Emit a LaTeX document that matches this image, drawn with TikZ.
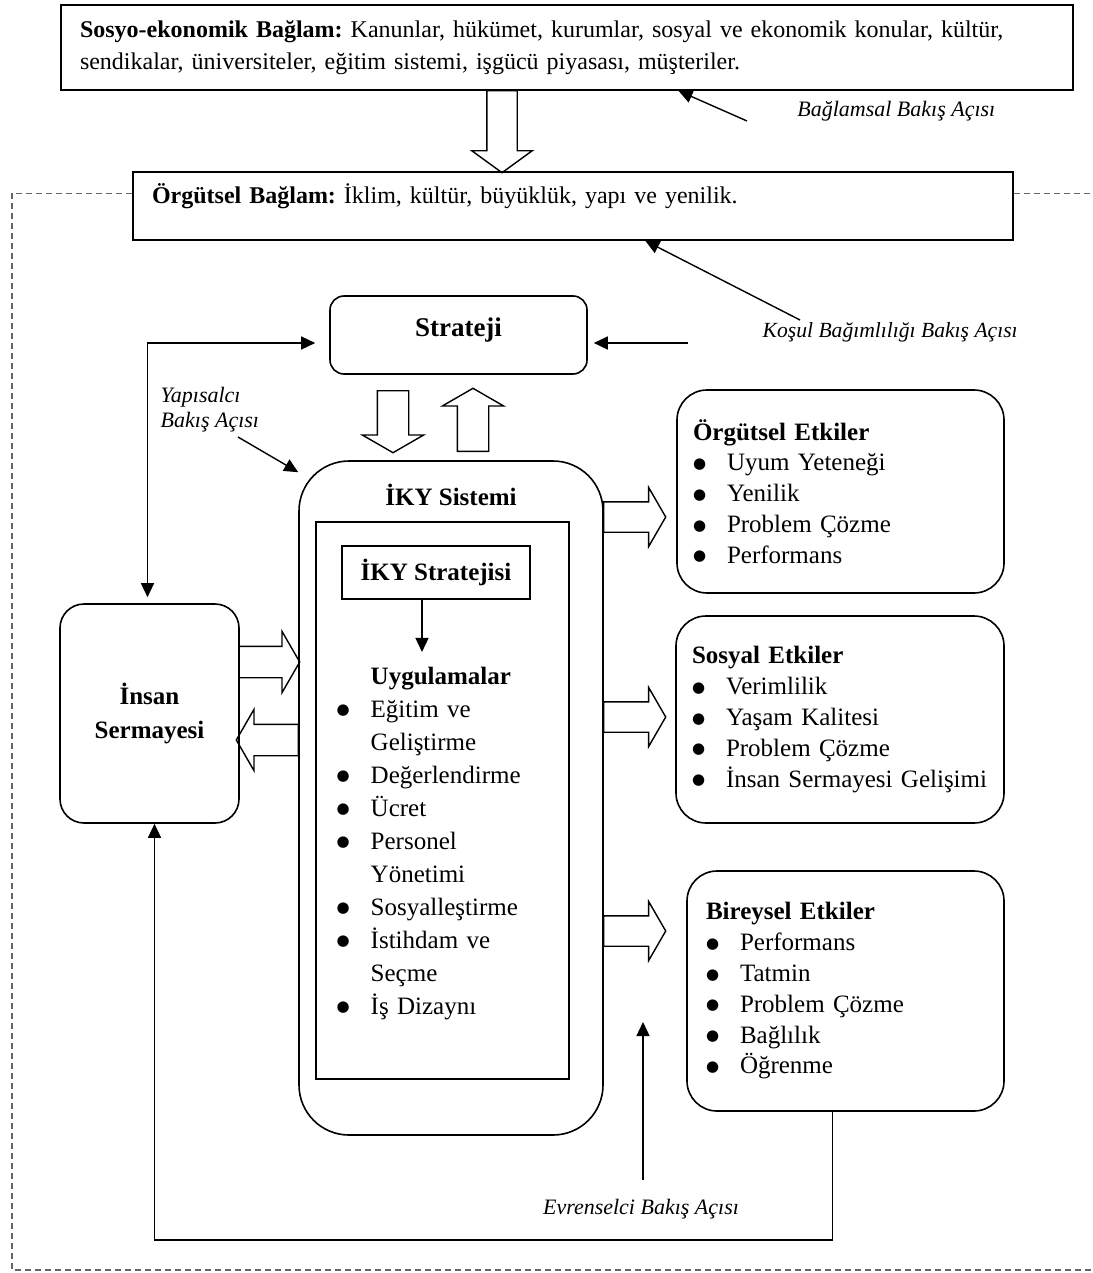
\documentclass[tikz,border=0pt]{standalone}
\usepackage{fontspec}
\setmainfont{Liberation Serif}
\newfontfamily\simge{DejaVu Sans}
\usetikzlibrary{arrows.meta,shapes.arrows,calc,positioning}
\frenchspacing

\newcommand\itm[1]{\mbox{\makebox[17pt][l]{\raisebox{1.2pt}{\simge\fontsize{7.5}{7.5}\selectfont ●}}#1}}
\newcommand\girinti{\hspace*{17pt}}

\begin{document}
\begin{tikzpicture}[x=0.5pt,y=-0.5pt,>={Triangle[length=7pt,width=6.5pt]},line width=0.7pt,
    kutu/.style={draw,rectangle,line width=0.8pt,inner sep=0pt},
    yuvarlak/.style={kutu,rounded corners=#1},
    etki/.style={draw,line width=0.8pt,rounded corners=15pt,inner xsep=8pt,inner ysep=0pt,align=left,font=\fontsize{12.5}{15.4}\selectfont},
    bakis/.style={inner sep=0pt,font=\fontsize{11}{12.5}\selectfont\itshape},
    blok/.style={single arrow,draw,line width=0.7pt,inner xsep=0pt,inner ysep=7.5pt,single arrow head extend=7.5pt,single arrow tip angle=120,anchor=tail},
    cerceve/.style={draw=black!60,line width=0.6pt,dash pattern=on 3pt off 2pt}]

\useasboundingbox (0,0) rectangle (1092,1273);

\node[kutu,text width=487pt,inner xsep=9.5pt,minimum height=42.5pt,align=left,font=\fontsize{12}{16}\selectfont] (sosyo) at (567,47.5)
    {\textbf{Sosyo-ekonomik Bağlam:} Kanunlar, hükümet, kurumlar, sosyal ve ekonomik konular, kültür,\\ sendikalar, üniversiteler, eğitim sistemi, işgücü piyasası, müşteriler.};
\node[kutu,text width=421pt,inner xsep=9.5pt,align=left,text height=16pt,text depth=18pt,font=\fontsize{12}{14}\selectfont] (orgbag) at (573,206)
    {\textbf{Örgütsel Bağlam:} İklim, kültür, büyüklük, yapı ve yenilik.};
\node[blok,inner ysep=7.25pt,minimum height=41pt,single arrow tip angle=108,rotate=-90] (ok1) at (502,90) {};

\draw[cerceve] ([yshift=-11pt]orgbag.north west) coordinate (c1) -| (12,1270) coordinate (solalt) -- (1092,1270) coordinate (sagalt);
\draw[cerceve] ([yshift=-11pt]orgbag.north east) coordinate (c2) -- (c2 -| sagalt);

\node[bakis,anchor=east] (bagl) at (996,111) {Bağlamsal Bakış Açısı};
\coordinate (b1) at (747,121);
\draw[->] (b1) -- ($(sosyo.south west)!0.61!(sosyo.south east)$);

\node[bakis,anchor=west,font=\fontsize{10.8}{12.5}\selectfont\itshape] (kosul) at (762,332) {Koşul Bağımlılığı Bakış Açısı};
\coordinate (k1) at (800,320);
\draw[->] (k1) -- ($(orgbag.south west)!0.582!(orgbag.south east)$);

\node[yuvarlak=7pt,minimum width=128.5pt,text height=20pt,text depth=19pt,font=\fontsize{13.5}{16}\selectfont\bfseries] (strat) at (458.5,335) {Strateji};
\coordinate (s1) at (688,343);
\draw[->,shorten >=3pt] (s1) -- (s1 -| strat.east);

\node[yuvarlak=12pt,minimum width=89.5pt,minimum height=109.5pt,align=center,font=\fontsize{12.5}{17}\selectfont\bfseries] (insan) at (149.5,713.5) {İnsan\\Sermayesi};
\draw[<->,shorten <=7pt,shorten >=3pt] ([yshift=-4pt]strat.west) -| ([xshift=-1pt]insan.north);

\node[yuvarlak=25pt,minimum width=152pt,text height=22pt,text depth=315pt,font=\fontsize{12.5}{15}\selectfont\bfseries] (iky) at (451,798) {İKY Sistemi};
\node[kutu,minimum width=126.5pt,minimum height=278.5pt] (ic) at (442.5,800.5) {};
\node[kutu,minimum width=94pt,minimum height=26.5pt,font=\fontsize{12.5}{15}\selectfont\bfseries] (ikystr) at (436,572.5) {İKY Stratejisi};
\node[anchor=base west,text width=110pt,align=left,inner sep=0pt,font=\fontsize{12.5}{16.5}\selectfont] (uyg) at (336,684)
    {\girinti\textbf{Uygulamalar}\\ \itm{Eğitim ve}\\ \girinti Geliştirme\\ \itm{Değerlendirme}\\ \itm{Ücret}\\ \itm{Personel}\\ \girinti Yönetimi\\ \itm{Sosyalleştirme}\\ \itm{İstihdam ve}\\ \girinti Seçme\\ \itm{İş Dizaynı}};
\draw[->,shorten >=7pt] ([xshift=-7pt]ikystr.south) -- ([xshift=-7pt]ikystr.south |- uyg.north);

\node[bakis,align=left,anchor=west] (yap) at (160,410) {Yapısalcı\\Bakış Açısı};
\coordinate (y1) at (238,437);
\draw[->] (y1) -- ([yshift=-6pt]iky.north west);

\node[blok,minimum height=31pt,rotate=-90] (asagi) at (393,390) {};
\node[blok,minimum height=31.5pt,rotate=90] (yukari) at (473,452) {};
\node[blok,minimum height=30.5pt] (sag1) at (238,662) {};
\node[blok,minimum height=31pt,rotate=180] (sol1) at (299,740) {};

\node[etki,text width=147.5pt,minimum height=101.5pt] (ork) at (840.5,491.5)
    {\textbf{Örgütsel Etkiler}\\ \itm{Uyum Yeteneği}\\ \itm{Yenilik}\\ \itm{Problem Çözme}\\ \itm{Performans}};
\node[etki,text width=148pt,minimum height=103.5pt] (sos) at (840,719.5)
    {\textbf{Sosyal Etkiler}\\ \itm{Verimlilik}\\ \itm{Yaşam Kalitesi}\\ \itm{Problem Çözme}\\ \itm{İnsan Sermayesi Gelişimi}};
\node[etki,inner xsep=9.5pt,text width=139.5pt,minimum height=120pt] (bir) at (845.5,991)
    {\textbf{Bireysel Etkiler}\\ \itm{Performans}\\ \itm{Tatmin}\\ \itm{Problem Çözme}\\ \itm{Bağlılık}\\ \itm{Öğrenme}};

\node[blok,inner ysep=7.25pt,single arrow head extend=7.25pt,minimum height=31pt] (e1) at (603,517) {};
\node[blok,inner ysep=7.25pt,single arrow head extend=7.25pt,minimum height=31pt] (e2) at (603,717) {};
\node[blok,inner ysep=7.25pt,single arrow head extend=7.25pt,minimum height=31pt] (e3) at (603,931) {};

\node[bakis] (evr) at (641,1209) {Evrenselci Bakış Açısı};
\coordinate (e0) at (643,1180);
\coordinate (evrucu) at (643,1022);
\draw[->] (e0) -- (evrucu);

\coordinate (alt) at (0,1240);
\draw[->] ($(bir.south west)!0.46!(bir.south east)$) coordinate (b0) -- (b0 |- alt) -| ([xshift=2.5pt]insan.south);

\end{tikzpicture}
\end{document}
